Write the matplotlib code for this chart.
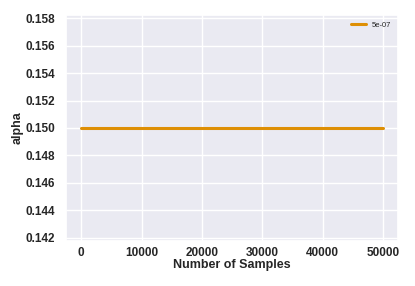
import numpy as np
import matplotlib
matplotlib.use("Agg")
import matplotlib.pyplot as plt
import seaborn as sns

# data
samples = [0, 10000, 20000, 30000, 40000, 50000]
alpha = [0.15, 0.15, 0.15, 0.15, 0.15, 0.15]
label = "5e-07"

sns.set_theme(style="darkgrid")
plt.rcParams['font.family'] = ['Liberation Sans', 'DejaVu Sans']

fig, ax = plt.subplots(figsize=(4.15, 2.86), dpi=100)
fig.subplots_adjust(left=0.159, right=0.96, top=0.948, bottom=0.157)

ax.plot(samples, alpha, color='#DE8F05', linewidth=2.2, label=label)
ax.set_ylim(0.14175, 0.15825)
ax.set_yticks(np.arange(0.142, 0.1581, 0.002))
ax.yaxis.set_major_formatter(matplotlib.ticker.FormatStrFormatter('%.3f'))

ax.set_xlabel('Number of Samples', fontsize=9, fontweight='bold', labelpad=0)
ax.set_ylabel('alpha', fontsize=9, fontweight='bold', labelpad=1)
for t in ax.get_xticklabels() + ax.get_yticklabels():
    t.set_fontweight('bold')
    t.set_fontsize(8.5)
ax.tick_params(axis='y', pad=2)
ax.tick_params(axis='x', pad=-2)

ax.legend(loc='upper right', fontsize=5.5, frameon=False)

fig.savefig('out.png')
